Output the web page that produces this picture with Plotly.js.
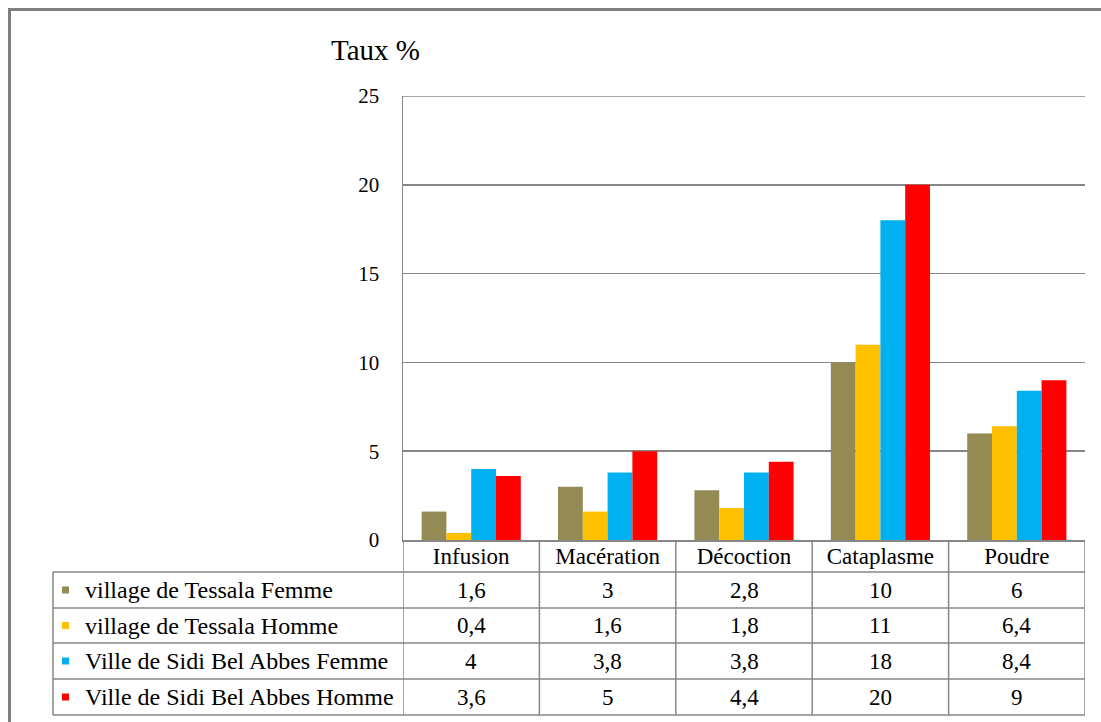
<!DOCTYPE html>
<html>
<head>
<meta charset="utf-8">
<script src="https://cdn.plot.ly/plotly-3.0.1.min.js"></script>
<style>
html, body { margin: 0; padding: 0; background: #fff; }
#chart { width: 1101px; height: 722px; }
</style>
</head>
<body>
<div id="chart"></div>
<script>
// Modes de préparation des plantes médicinales, par zone et par sexe (Taux %)
const categories = ['Infusion', 'Macération', 'Décoction', 'Cataplasme', 'Poudre'];
const seriesNames = [
  'village de Tessala Femme',
  'village de Tessala Homme',
  'Ville de Sidi Bel Abbes Femme',
  'Ville de Sidi Bel Abbes Homme'
];
const tessalaFemme = [1.6, 3, 2.8, 10, 6];
const tessalaHomme = [0.4, 1.6, 1.8, 11, 6.4];
const sbaFemme = [4, 3.8, 3.8, 18, 8.4];
const sbaHomme = [3.6, 5, 4.4, 20, 9];
const yTicks = [0, 5, 10, 15, 20, 25];
const axisTitle = 'Taux %';

const seriesValues = [tessalaFemme, tessalaHomme, sbaFemme, sbaHomme];
const seriesColors = ['#948A54', '#FFC000', '#00B0F0', '#FF0000'];

// page geometry (pixels) and helpers converting to paper coordinates
const W = 1101, H = 722;
const M = { l: 403, r: 16, t: 96, b: 182 };
const plotW = W - M.l - M.r, plotH = H - M.t - M.b;
const px = X => (X - M.l) / plotW;
const py = Y => (H - M.b - Y) / plotH;

const FONT = 'Liberation Serif, Times New Roman, serif';
const GRID = '#868686';
const fmt = v => String(v).replace('.', ',');

// data table rows under the axis
const headerBottom = 572;
const rowLines = [572, 608, 643, 679, 715];
const tableLeft = 53, tableRight = 1085;

const traces = seriesValues.map((vals, s) => ({
  type: 'bar',
  name: seriesNames[s],
  x: categories,
  y: vals,
  marker: { color: seriesColors[s], line: { width: 0 } },
  showlegend: false,
  hoverinfo: 'x+y+name'
}));

const shapes = [];
const annotations = [];

// top gridline at the end of the value range
const yMax = yTicks[yTicks.length - 1];
shapes.push({ type: 'line', xref: 'paper', yref: 'y',
  x0: 0, x1: 1, y0: yMax, y1: yMax,
  line: { color: GRID, width: 1.5 } });

// horizontal table lines
rowLines.forEach(Y => {
  shapes.push({ type: 'line', xref: 'paper', yref: 'paper',
    x0: px(tableLeft), x1: px(tableRight), y0: py(Y), y1: py(Y),
    line: { color: GRID, width: 1.5 } });
});
// left edge of the legend column
shapes.push({ type: 'line', xref: 'paper', yref: 'paper',
  x0: px(tableLeft), x1: px(tableLeft), y0: py(headerBottom), y1: py(rowLines[rowLines.length - 1]),
  line: { color: GRID, width: 1.5 } });
// column dividers at category boundaries
for (let i = 0; i <= categories.length; i++) {
  shapes.push({ type: 'line', xref: 'x', yref: 'paper',
    x0: i - 0.5, x1: i - 0.5, y0: 0, y1: py(rowLines[rowLines.length - 1]),
    line: { color: GRID, width: 1.5 } });
}

// legend keys, series names and values
seriesValues.forEach((vals, s) => {
  const cy = (rowLines[s] + rowLines[s + 1]) / 2;
  shapes.push({ type: 'rect', xref: 'paper', yref: 'paper',
    x0: px(62), x1: px(69), y0: py(cy + 3.5), y1: py(cy - 3.5),
    fillcolor: seriesColors[s], line: { width: 0 } });
  annotations.push({ xref: 'paper', yref: 'paper', x: px(83), y: py(cy),
    xanchor: 'left', yanchor: 'middle', showarrow: false,
    text: seriesNames[s], font: { family: FONT, size: 24, color: '#000' } });
  vals.forEach((v, i) => {
    annotations.push({ xref: 'x', yref: 'paper', x: i, y: py(cy),
      xanchor: 'center', yanchor: 'middle', showarrow: false,
      text: fmt(v), font: { family: FONT, size: 23, color: '#000' } });
  });
});

// axis caption
annotations.push({ xref: 'paper', yref: 'paper', x: px(329), y: py(50),
  xanchor: 'left', yanchor: 'middle', showarrow: false,
  text: axisTitle, font: { family: FONT, size: 29, color: '#000' } });

// outer frame
shapes.push({ type: 'rect', xref: 'paper', yref: 'paper',
  x0: px(9.5), x1: px(1130), y0: py(9.5), y1: py(760),
  line: { color: '#808080', width: 3 }, fillcolor: 'rgba(0,0,0,0)' });

const layout = {
  width: W, height: H,
  margin: M,
  paper_bgcolor: '#fff', plot_bgcolor: '#fff',
  font: { family: FONT, color: '#000' },
  barmode: 'group',
  bargap: 0.273,
  bargroupgap: 0,
  xaxis: {
    type: 'category',
    range: [-0.5, categories.length - 0.5],
    showgrid: false, zeroline: false,
    showline: true, linecolor: GRID, linewidth: 1.5,
    ticks: '', tickangle: 0,
    tickfont: { family: FONT, size: 23, color: '#000' },
    ticklabelstandoff: -5,
    fixedrange: true
  },
  yaxis: {
    range: [0, yMax],
    tickvals: yTicks,
    ticktext: yTicks.map(String),
    showgrid: true, gridcolor: GRID, gridwidth: 1.5,
    zeroline: false,
    showline: true, linecolor: GRID, linewidth: 1.5,
    ticks: '',
    tickfont: { family: FONT, size: 21, color: '#000' },
    ticklabelstandoff: 18,
    fixedrange: true
  },
  shapes: shapes,
  annotations: annotations
};

Plotly.newPlot('chart', traces, layout, { displayModeBar: false, staticPlot: true });
</script>
</body>
</html>
